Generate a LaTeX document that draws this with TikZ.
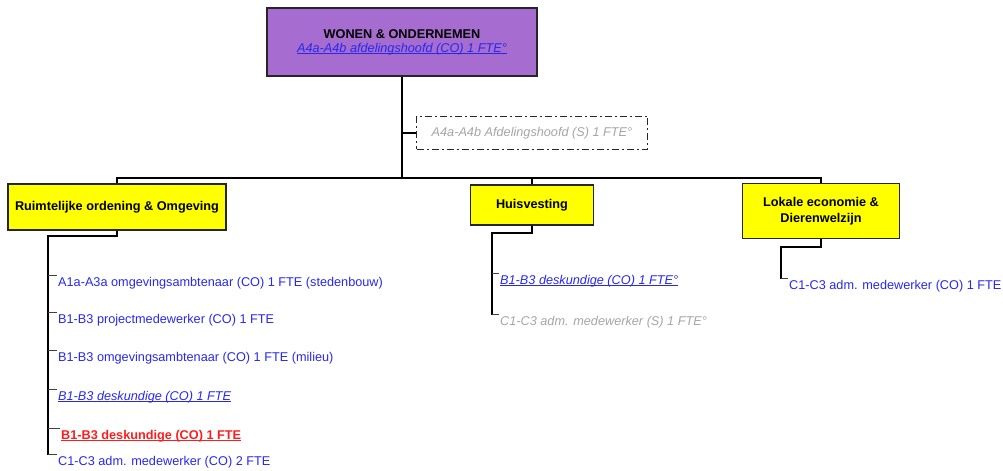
\documentclass[tikz,border=0pt]{standalone}
\usepackage{fontspec}
\setmainfont{Liberation Sans}
\usetikzlibrary{positioning}
\definecolor{wopurple}{RGB}{166,108,208}
\definecolor{woyellow}{RGB}{255,255,0}
\definecolor{woblue}{RGB}{40,40,235}
\definecolor{wogrey}{RGB}{165,165,165}
\definecolor{wored}{RGB}{250,30,30}
\newsavebox\wobox
\newcommand{\wounder}[1]{\sbox\wobox{#1}\rlap{\rule[-1.6bp]{\wd\wobox}{0.75bp}}\usebox\wobox}
\newcommand{\ulink}[1]{\wounder{\textit{#1}}}

\begin{document}
\begin{tikzpicture}[
    x=1bp, y=-1bp,
    every node/.style={font=\fontsize{12.7bp}{15bp}\selectfont},
    head/.style={rectangle, draw=black!85, line width=1.3bp, fill=wopurple, align=center, minimum width=270bp, minimum height=68bp},
    dept/.style={rectangle, draw=black!85, line width=1.2bp, fill=woyellow, align=center, font=\fontsize{12.7bp}{16bp}\selectfont\bfseries},
    vacant/.style={rectangle, draw=black!85, line width=1.2bp, dash pattern=on 7bp off 3bp on 2bp off 3bp, text=wogrey, minimum width=231bp, minimum height=33bp, font=\fontsize{12.7bp}{15bp}\selectfont\itshape},
    item/.style={anchor=west, inner sep=1bp, text=woblue},
    conn/.style={draw=black, line width=1.7bp},
    tick/.style={draw=black!75, line width=1bp}
]
\useasboundingbox (0,0) rectangle (1003,471);

% Nodes
\node[head] (wonen) at (402,42) {\textbf{WONEN \& ONDERNEMEN}\\[-1bp]\textcolor{woblue}{\ulink{A4a-A4b afdelingshoofd (CO) 1 FTE°}}};
\node[vacant] (vac) at (532,133) {A4a-A4b Afdelingshoofd (S) 1 FTE°};
\node[dept, minimum width=218bp, minimum height=46bp] (ruimte) at (117,207) {Ruimtelijke ordening \& Omgeving};
\node[dept, minimum width=123bp, minimum height=40bp] (huis) at (532,205) {Huisvesting};
\node[dept, minimum width=157bp, minimum height=55bp] (lokale) at (821,211) {Lokale economie \&\\Dierenwelzijn};

% Staff
\node[item] (ro1) at (57,283) {A1a-A3a omgevingsambtenaar (CO) 1 FTE (stedenbouw)};
\node[item] (ro2) at (57,320) {B1-B3 projectmedewerker (CO) 1 FTE};
\node[item] (ro3) at (57,358) {B1-B3 omgevingsambtenaar (CO) 1 FTE (milieu)};
\node[item] (ro4) at (57,397) {\ulink{B1-B3 deskundige (CO) 1 FTE}};
\node[item, text=wored, font=\fontsize{12.7bp}{15bp}\selectfont\bfseries] (ro5) at (60,436) {\wounder{B1-B3 deskundige (CO) 1 FTE}};
\node[item] (ro6) at (57,462) {C1-C3 adm. medewerker (CO) 2 FTE};
\node[item] (hu1) at (499,281) {\ulink{B1-B3 deskundige (CO) 1 FTE°}};
\node[item, text=wogrey, font=\fontsize{12.7bp}{15bp}\selectfont\itshape] (hu2) at (499,322) {C1-C3 adm. medewerker (S) 1 FTE°};
\node[item] (lo1) at (788,286) {C1-C3 adm. medewerker (CO) 1 FTE};

% Spine points
\coordinate (bar) at (0,178);
\coordinate (rspine) at (48,236);
\coordinate (hspine) at (492,233);
\coordinate (lspine) at (781,247);

% Draw connectors
\draw[conn] (wonen.south) -- (wonen.south |- bar);
\draw[conn] (vac.west) -- (vac.west -| wonen.south);
\draw[conn] (ruimte.north) |- (bar -| huis.north) -| (lokale.north);
\draw[conn] (huis.north) -- (huis.north |- bar);

% Connect staff
\draw[conn] (ruimte.south) |- (rspine) -- (rspine |- ro6.north west);
\foreach \i in {1,...,6}
{
    \draw[tick] (rspine |- ro\i.north west) -- (ro\i.north west);
}
\draw[conn] (huis.south) |- (hspine) -- (hspine |- hu2.north west);
\foreach \i in {1,2}
{
    \draw[tick] (hspine |- hu\i.north west) -- (hu\i.north west);
}
\draw[conn] (lokale.south) |- (lspine) -- (lspine |- lo1.north west);
\draw[tick] (lspine |- lo1.north west) -- (lo1.north west);

\end{tikzpicture}
\end{document}
